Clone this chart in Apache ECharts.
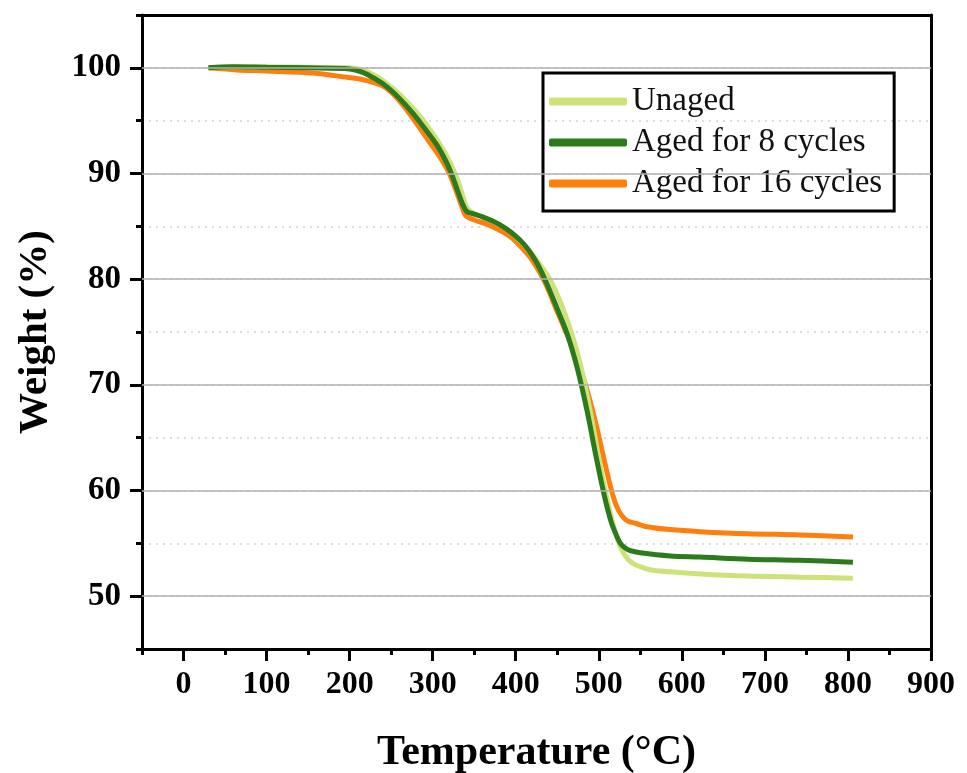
<!DOCTYPE html>
<html>
<head>
<meta charset="utf-8">
<script src="https://cdn.jsdelivr.net/npm/echarts@6/dist/echarts.min.js"></script>
<style>
html,body{margin:0;padding:0;background:#fff;}
#chart{width:967px;height:773px;}
</style>
</head>
<body>
<div id="chart"></div>
<script>
// ---- data ----
var seriesNames = ['Unaged', 'Aged for 8 cycles', 'Aged for 16 cycles'];
var xTickLabels = [0, 100, 200, 300, 400, 500, 600, 700, 800, 900];
var yTickLabels = [50, 60, 70, 80, 90, 100];

var tempUnaged = [30, 60, 100, 150, 200, 215, 230, 245, 260, 275, 290, 305, 318, 328, 335, 341, 348, 360, 375, 390, 402, 415, 428, 441, 454, 466, 478, 490, 502, 512, 520, 527, 534, 541, 550, 562, 586, 622, 680, 742, 806];
var weightUnaged = [100.0, 100.1, 100.1, 100.05, 100.0, 99.8, 99.3, 98.5, 97.5, 96.3, 94.9, 93.2, 91.5, 89.8, 88.2, 86.8, 86.3, 85.9, 85.4, 84.7, 83.9, 82.8, 81.5, 80.0, 77.8, 75.2, 71.9, 67.4, 62.2, 58.5, 56.0, 54.5, 53.6, 53.1, 52.8, 52.5, 52.3, 52.1, 51.9, 51.8, 51.7];

var temp8 = [30, 60, 100, 150, 200, 215, 230, 245, 260, 275, 290, 305, 315, 322, 329, 335, 341, 348, 360, 372, 384, 395, 405, 415, 425, 435, 448, 462, 474, 486, 497, 507, 515, 521, 526, 531, 538, 550, 586, 622, 680, 742, 806];
var weight8 = [100.0, 100.1, 100.05, 100.0, 99.9, 99.6, 99.0, 98.2, 97.1, 95.8, 94.3, 92.7, 91.3, 90.1, 88.6, 87.3, 86.4, 86.2, 85.9, 85.5, 85.0, 84.4, 83.7, 82.8, 81.6, 80.0, 77.6, 74.8, 71.6, 67.5, 63.1, 59.4, 57.0, 55.8, 55.0, 54.6, 54.3, 54.1, 53.8, 53.7, 53.5, 53.4, 53.2];

var temp16 = [30, 64, 100, 156, 197, 215, 237, 250, 265, 280, 295, 310, 320, 328, 335, 340, 350, 362, 374, 386, 397, 407, 417, 427, 437, 448, 460, 472, 484, 495, 505, 514, 521, 528, 535, 544, 556, 586, 622, 680, 742, 806];
var weight16 = [100.0, 99.8, 99.7, 99.5, 99.1, 98.9, 98.4, 97.7, 96.4, 94.8, 93.1, 91.4, 90.0, 88.4, 86.9, 86.0, 85.6, 85.3, 84.9, 84.4, 83.8, 83.0, 82.1, 80.9, 79.4, 77.3, 75.1, 72.8, 70.0, 66.8, 63.4, 60.4, 58.6, 57.6, 57.1, 56.9, 56.6, 56.3, 56.1, 55.9, 55.8, 55.6];

function pairs(t, w) { return t.map(function (v, i) { return [v, w[i]]; }); }

var FONT = '"Liberation Serif", "Times New Roman", serif';
var colors = ['#cde37a', '#2b7a1b', '#ff7f0e'];

var chart = echarts.init(document.getElementById('chart'), null, {renderer: 'canvas'});

var blackLine = {show: true, onZero: false, lineStyle: {color: '#000', width: 3}};

var option = {
  backgroundColor: '#fff',
  animation: false,
  grid: {left: 142, right: 36, top: 15, bottom: 124, show: false, outerBoundsMode: 'none', containLabel: false},
  legend: {
    data: seriesNames,
    orient: 'vertical',
    left: 543, top: 73,
    borderColor: '#000', borderWidth: 3,
    padding: [12, 12, 11, 6],
    itemWidth: 78, itemHeight: 8, itemGap: 8,
    icon: 'roundRect',
    textStyle: {fontFamily: FONT, fontSize: 33, color: '#111', lineHeight: 33, padding: [0, 0, 0, 0]}
  },
  xAxis: [
    {
      type: 'value', min: -50, max: 900, interval: 50,
      axisLine: blackLine,
      axisTick: {show: true, length: 6, lineStyle: {color: '#000', width: 3}},
      axisLabel: {show: false},
      splitLine: {show: false}
    },
    {
      type: 'value', min: -50, max: 900, position: 'bottom',
      axisLine: {show: false, onZero: false},
      axisTick: {show: true, length: 12, customValues: xTickLabels, lineStyle: {color: '#000', width: 3}},
      axisLabel: {show: true, customValues: xTickLabels, fontFamily: FONT, fontWeight: 'bold', fontSize: 32, color: '#000', margin: 20},
      splitLine: {show: false},
      name: 'Temperature (°C)', nameLocation: 'middle', nameGap: 83,
      nameTextStyle: {fontFamily: FONT, fontWeight: 'bold', fontSize: 42, color: '#000'}
    },
    {
      type: 'value', min: -50, max: 900, position: 'top',
      axisLine: blackLine, axisTick: {show: false}, axisLabel: {show: false}, splitLine: {show: false}
    }
  ],
  yAxis: [
    {
      type: 'value', min: 45, max: 105, interval: 5,
      axisLine: blackLine,
      axisTick: {show: true, length: 6, lineStyle: {color: '#000', width: 3}},
      axisLabel: {show: false},
      splitLine: {show: true, lineStyle: {color: '#d4d4d4', width: 1.5, type: [2, 5]}}
    },
    {
      type: 'value', min: 45, max: 105, position: 'left',
      axisLine: {show: false, onZero: false},
      axisTick: {show: true, length: 12, customValues: yTickLabels, lineStyle: {color: '#000', width: 3}},
      axisLabel: {show: true, customValues: yTickLabels, fontFamily: FONT, fontWeight: 'bold', fontSize: 33, color: '#000', margin: 21},
      splitLine: {show: false},
      name: 'Weight (%)', nameLocation: 'middle', nameGap: 86, nameRotate: 90,
      nameTextStyle: {fontFamily: FONT, fontWeight: 'bold', fontSize: 41, color: '#000'}
    },
    {
      type: 'value', min: 45, max: 105, position: 'right',
      axisLine: blackLine, axisTick: {show: false}, axisLabel: {show: false}, splitLine: {show: false}
    }
  ],
  series: [
    {
      name: '__grid', type: 'line', data: [], z: 1, silent: true,
      markLine: {
        silent: true, symbol: 'none', label: {show: false},
        lineStyle: {color: '#b0b0b0', width: 1.5, type: 'solid'},
        emphasis: {disabled: true},
        data: yTickLabels.map(function (v) { return {yAxis: v}; })
      }
    },
    {
      name: seriesNames[0], type: 'line', data: pairs(tempUnaged, weightUnaged),
      showSymbol: false, smooth: 0.3, z: 3,
      lineStyle: {color: colors[0], width: 5}, itemStyle: {color: colors[0]}
    },
    {
      name: seriesNames[1], type: 'line', data: pairs(temp8, weight8),
      showSymbol: false, smooth: 0.3, z: 4,
      lineStyle: {color: colors[1], width: 5}, itemStyle: {color: colors[1]}
    },
    {
      name: seriesNames[2], type: 'line', data: pairs(temp16, weight16),
      showSymbol: false, smooth: 0.3, z: 2,
      lineStyle: {color: colors[2], width: 5}, itemStyle: {color: colors[2]}
    }
  ]
};
chart.setOption(option);
</script>
</body>
</html>
